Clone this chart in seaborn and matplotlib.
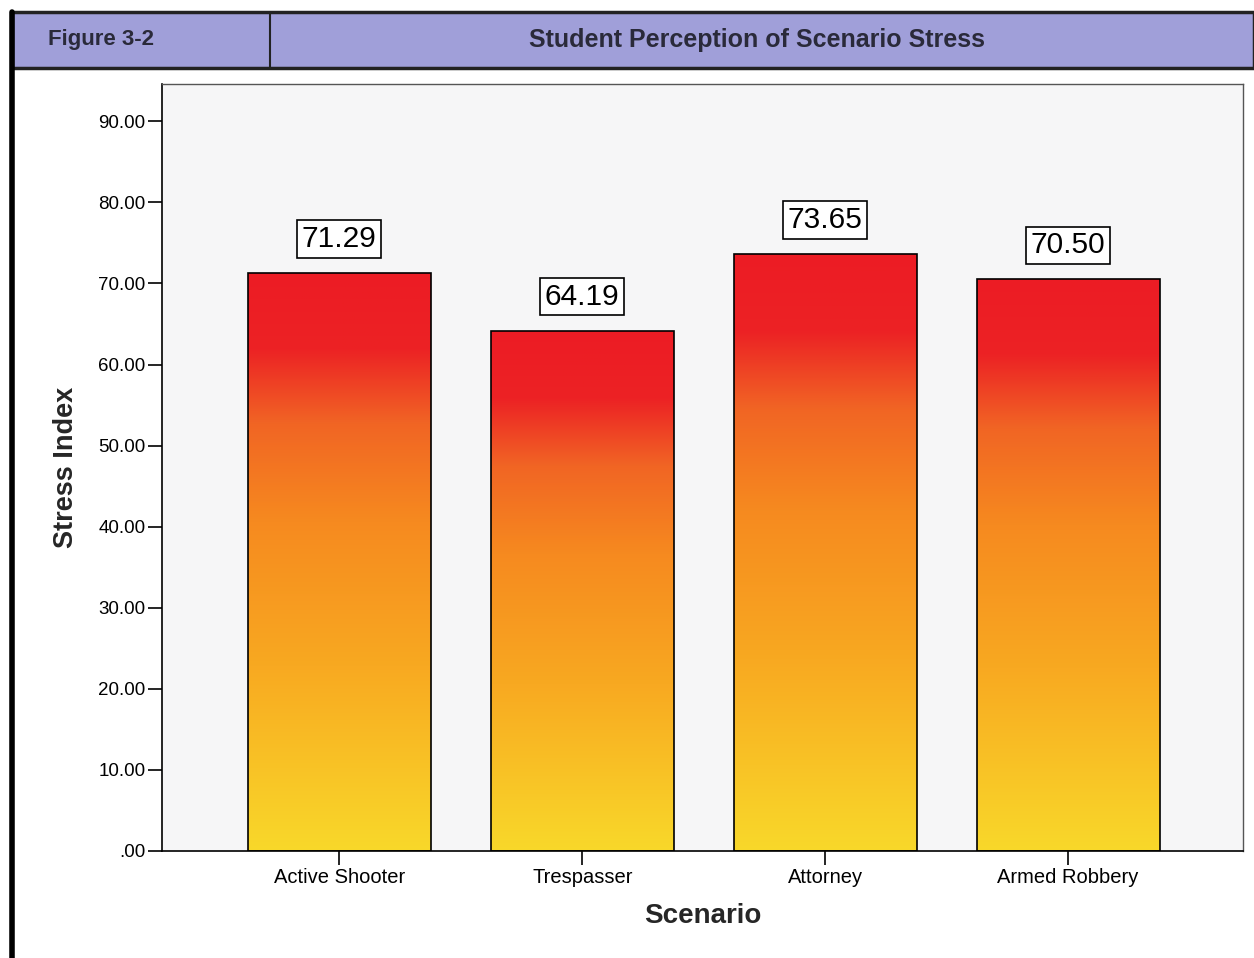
import seaborn as sns
import pandas as pd
import matplotlib.pyplot as plt
import numpy as np
from matplotlib.colors import LinearSegmentedColormap
from matplotlib.patches import Rectangle

# ---------------------------------------------------------------------------
"""Data"""
scenarios = ['Active Shooter', 'Trespasser', 'Attorney', 'Armed Robbery']
stress = [71.29, 64.19, 73.65, 70.50]
yticks = [0, 10, 20, 30, 40, 50, 60, 70, 80, 90]

df = pd.DataFrame({'Scenario': scenarios, 'Stress Index': stress})

# ---------------------------------------------------------------------------
"""Figure"""
sns.set_style('white')
plt.rcParams['font.family'] = ['Liberation Sans', 'DejaVu Sans']

fig = plt.figure(figsize=(12.54, 9.58), dpi=100)
fig.patch.set_facecolor('white')
ax = fig.add_axes([0.1292, 0.1117, 0.862, 0.8006])
ax.set_facecolor('#f6f6f7')

sns.barplot(data=df, x='Scenario', y='Stress Index', ax=ax, width=0.753,
            color='#f7941d', edgecolor='black', linewidth=1.2, zorder=2)

# gradient fill (yellow bottom -> orange -> red top) clipped to each bar
grad = LinearSegmentedColormap.from_list(
    'stress', [(0.0, '#f9d82a'), (0.32, '#f8a921'), (0.57, '#f68a1f'),
               (0.74, '#f16524'), (0.87, '#ec2224'), (1.0, '#ed1c24')])
g = np.linspace(0, 1, 256).reshape(-1, 1)
for bar in ax.patches:
    x0, w, h = bar.get_x(), bar.get_width(), bar.get_height()
    im = ax.imshow(g, cmap=grad, origin='lower', aspect='auto',
                   extent=[x0, x0 + w, 0, h], zorder=2.5)
    im.set_clip_path(bar)
    bar.set_facecolor('none')
    bar.set_zorder(3)
ax.set_xlim(-0.73, 3.72)
ax.set_ylim(0, 94.6)

# boxed value labels
for bar, v in zip(ax.patches, stress):
    ax.annotate(f'{v:.2f}', (bar.get_x() + bar.get_width() / 2, v),
                xytext=(0, 24.5), textcoords='offset points', ha='center',
                va='center', fontsize=21.5, color='black', zorder=5,
                bbox=dict(boxstyle='square,pad=0.16', fc='white', ec='black', lw=1.2))

# ---------------------------------------------------------------------------
"""Axes"""
ax.set_yticks(yticks)
ax.set_yticklabels(['.00'] + [f'{t:.2f}' for t in yticks[1:]])
ax.tick_params(axis='both', direction='out', length=10, width=1.2,
               colors='black', left=True, bottom=True, pad=2)
ax.tick_params(axis='y', labelsize=13.5)
ax.tick_params(axis='x', labelsize=14.5, pad=2)
ax.set_xlabel('Scenario', fontsize=20, fontweight='bold', labelpad=12)
ax.set_ylabel('Stress Index', fontsize=19.5, fontweight='bold', labelpad=14)
for side in ['left', 'bottom']:
    ax.spines[side].set_color('black')
    ax.spines[side].set_linewidth(1.2)
for side in ['top', 'right']:
    ax.spines[side].set_color('#555555')
    ax.spines[side].set_linewidth(1.0)

# ---------------------------------------------------------------------------
"""Header band"""
hb, ht = 1 - 68 / 958, 1 - 12 / 958
fig.patches.append(Rectangle((12 / 1254, hb), 1 - 12 / 1254, ht - hb,
                             transform=fig.transFigure, fc='#a09fd9',
                             ec='#222222', lw=2.5, zorder=0))
fig.lines.append(plt.Line2D([270 / 1254, 270 / 1254], [hb, ht],
                            transform=fig.transFigure, color='#222222', lw=1.5))
fig.lines.append(plt.Line2D([12 / 1254, 12 / 1254], [0, ht],
                            transform=fig.transFigure, color='black', lw=4))
fig.text(48 / 1254, (hb + ht) / 2, 'Figure 3-2', fontsize=16, color='#2a2a3a',
         fontweight='bold', va='center', ha='left')
fig.text(757 / 1254, (hb + ht) / 2, 'Student Perception of Scenario Stress',
         fontsize=18, color='#2a2a3a', fontweight='bold', va='center', ha='center')

fig.savefig('out.png', dpi=100)
